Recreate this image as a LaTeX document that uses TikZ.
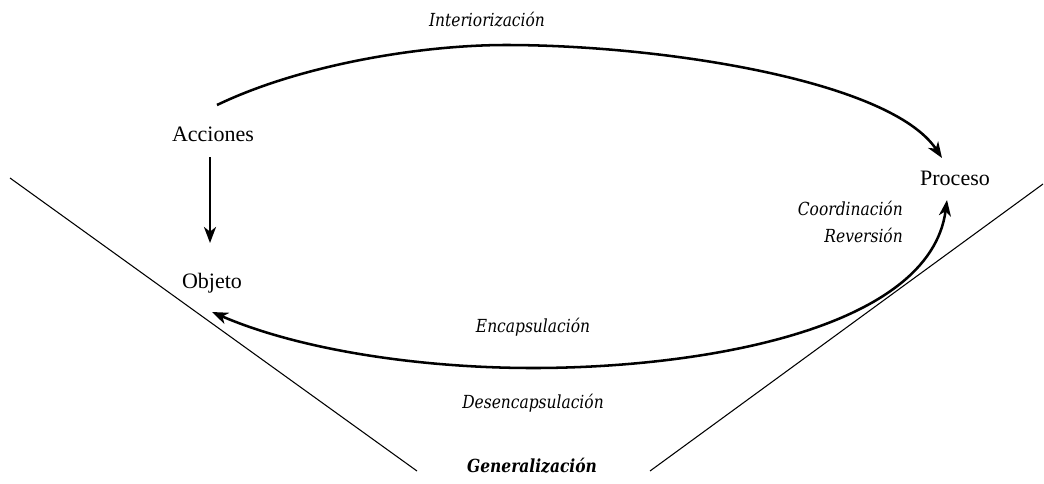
\documentclass[tikz,border=0pt]{standalone}
\usepackage{fontspec}
\setmainfont{Liberation Serif}
\newfontfamily\slabit[FakeStretch=0.86]{DejaVu Serif}
\usetikzlibrary{arrows.meta}
\begin{document}
\begin{tikzpicture}[x=0.75pt,y=-0.75pt,
  lbl/.style={font=\fontsize{16.5}{19}\selectfont, inner sep=0pt},
  itl/.style={font=\fontsize{13.5}{16}\slabit\itshape, inner sep=0pt},
  tip/.tip={Stealth[length=12pt,width=9pt,inset=3.5pt]},
  big/.style={line width=1.9pt, -tip},
  thin/.style={line width=0.8pt}]
\useasboundingbox (0,0) rectangle (1044,483);
% nodes
\node[lbl] (acc) at (213,134) {Acciones};
\node[lbl] (obj) at (212,283) {Objeto};
\node[lbl] (pro) at (955,178) {Proceso};
\node[itl] (int) at (487,20) {Interiorización};
\node[itl, anchor=east] (coo) at (903,208) {Coordinación};
\node[itl, anchor=east] (rev) at (903,235) {Reversión};
\node[itl] (enc) at (533,327) {Encapsulación};
\node[itl] (des) at (533,403) {Desencapsulación};
\node[itl, font=\fontsize{13.5}{16}\slabit\bfseries\itshape] (gen) at (532,466) {Generalización};
% cone lines
\coordinate (l1) at (10,178);
\coordinate (l2) at (417,471);
\coordinate (r1) at (1043,184);
\coordinate (r2) at (650,471);
\draw[thin] (l1) -- (l2);
\draw[thin] (r1) -- (r2);
% arrows
\draw[big] ([shift={(4,-29)}]acc.center) .. controls (300,65) and (420,45) .. (506,45)
  .. controls (660,45) and (890,80) .. ([shift={(-13,-20)}]pro.center);
\draw[big] ([shift={(-3,23)}]acc.center) -- ([shift={(-2,-40)}]obj.center);
\draw[line width=1.9pt, tip-tip]
  ([shift={(0,29)}]obj.center) .. controls (300,350) and (420,368) .. (533,368)
  .. controls (700,368) and (930,330) .. ([shift={(-8,22)}]pro.center);
\end{tikzpicture}
\end{document}
